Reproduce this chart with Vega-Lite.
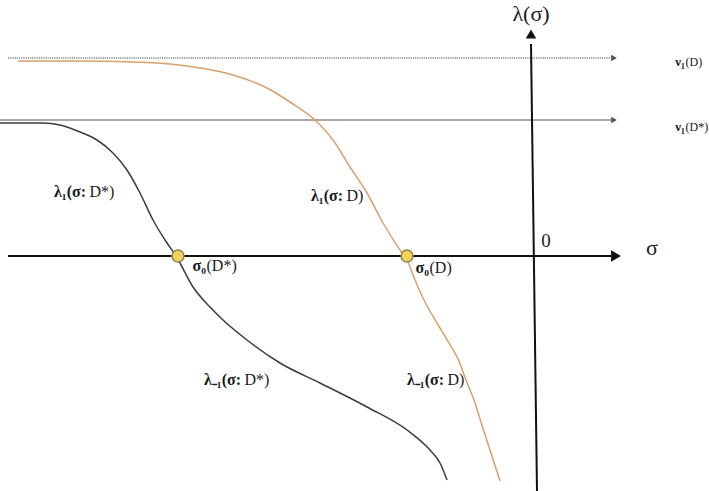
{
  "$schema": "https://vega.github.io/schema/vega-lite/v6.json",
  "width": 709,
  "height": 491,
  "autosize": "none",
  "padding": 0,
  "background": "white",
  "config": {"view": {"stroke": null}, "text": {"font": "Liberation Serif", "color": "#1a1a1a", "baseline": "middle"}},
  "datasets": {
    "curves": [
      {"curve": "D", "seq": 1, "s": -5.19, "l": 1.95},
      {"curve": "D", "seq": 2, "s": -4.57, "l": 1.95},
      {"curve": "D", "seq": 3, "s": -4.07, "l": 1.94},
      {"curve": "D", "seq": 4, "s": -3.67, "l": 1.92},
      {"curve": "D", "seq": 5, "s": -3.37, "l": 1.88},
      {"curve": "D", "seq": 6, "s": -3.04, "l": 1.81},
      {"curve": "D", "seq": 7, "s": -2.70, "l": 1.68},
      {"curve": "D", "seq": 8, "s": -2.47, "l": 1.54},
      {"curve": "D", "seq": 9, "s": -2.22, "l": 1.36},
      {"curve": "D", "seq": 10, "s": -2.04, "l": 1.16},
      {"curve": "D", "seq": 11, "s": -1.87, "l": 0.89},
      {"curve": "D", "seq": 12, "s": -1.70, "l": 0.63},
      {"curve": "D", "seq": 13, "s": -1.54, "l": 0.33},
      {"curve": "D", "seq": 14, "s": -1.37, "l": 0.06},
      {"curve": "D", "seq": 15, "s": -1.30, "l": -0.04},
      {"curve": "D", "seq": 16, "s": -1.22, "l": -0.24},
      {"curve": "D", "seq": 17, "s": -1.12, "l": -0.46},
      {"curve": "D", "seq": 18, "s": -1.00, "l": -0.67},
      {"curve": "D", "seq": 19, "s": -0.88, "l": -0.87},
      {"curve": "D", "seq": 20, "s": -0.78, "l": -1.05},
      {"curve": "D", "seq": 21, "s": -0.71, "l": -1.24},
      {"curve": "D", "seq": 22, "s": -0.63, "l": -1.44},
      {"curve": "D", "seq": 23, "s": -0.56, "l": -1.66},
      {"curve": "D", "seq": 24, "s": -0.47, "l": -1.94},
      {"curve": "D", "seq": 25, "s": -0.37, "l": -2.25},
      {"curve": "D*", "seq": 1, "s": -5.37, "l": 1.33},
      {"curve": "D*", "seq": 2, "s": -4.94, "l": 1.33},
      {"curve": "D*", "seq": 3, "s": -4.77, "l": 1.31},
      {"curve": "D*", "seq": 4, "s": -4.57, "l": 1.24},
      {"curve": "D*", "seq": 5, "s": -4.40, "l": 1.16},
      {"curve": "D*", "seq": 6, "s": -4.24, "l": 1.03},
      {"curve": "D*", "seq": 7, "s": -4.10, "l": 0.86},
      {"curve": "D*", "seq": 8, "s": -3.97, "l": 0.63},
      {"curve": "D*", "seq": 9, "s": -3.84, "l": 0.36},
      {"curve": "D*", "seq": 10, "s": -3.70, "l": 0.13},
      {"curve": "D*", "seq": 11, "s": -3.61, "l": 0.0},
      {"curve": "D*", "seq": 12, "s": -3.44, "l": -0.31},
      {"curve": "D*", "seq": 13, "s": -3.27, "l": -0.51},
      {"curve": "D*", "seq": 14, "s": -3.14, "l": -0.64},
      {"curve": "D*", "seq": 15, "s": -2.90, "l": -0.84},
      {"curve": "D*", "seq": 16, "s": -2.57, "l": -1.07},
      {"curve": "D*", "seq": 17, "s": -2.17, "l": -1.27},
      {"curve": "D*", "seq": 18, "s": -1.70, "l": -1.51},
      {"curve": "D*", "seq": 19, "s": -1.30, "l": -1.74},
      {"curve": "D*", "seq": 20, "s": -1.07, "l": -1.94},
      {"curve": "D*", "seq": 21, "s": -0.97, "l": -2.07},
      {"curve": "D*", "seq": 22, "s": -0.90, "l": -2.24}
    ],
    "lines": [
      {"id": "sigma-axis", "s1": -5.29, "l1": 0.0, "s2": 0.74, "l2": 0.0},
      {"id": "lambda-axis", "s1": 0.0, "l1": -2.35, "s2": -0.06, "l2": 2.12},
      {"id": "nu-D", "s1": -5.29, "l1": 1.98, "s2": 0.74, "l2": 1.98},
      {"id": "nu-Dstar", "s1": -5.37, "l1": 1.36, "s2": 0.74, "l2": 1.36}
    ],
    "arrows": [
      {"id": "sigma-axis", "s": 0.79, "l": 0.0},
      {"id": "lambda-axis", "s": -0.06, "l": 2.22},
      {"id": "nu-D", "s": 0.77, "l": 1.98},
      {"id": "nu-Dstar", "s": 0.77, "l": 1.36}
    ],
    "roots": [
      {"curve": "D*", "s": -3.59, "l": 0.0},
      {"curve": "D", "s": -1.30, "l": 0.0}
    ],
    "axisLabels": [
      {"role": "axis", "text": "λ(σ)", "s": -0.06, "l": 2.42},
      {"role": "axis", "text": "σ", "s": 1.15, "l": 0.08},
      {"role": "zero", "text": "0", "s": 0.09, "l": 0.15}
    ],
    "labels": [
      {"role": "limit", "lead": "ν₁", "tail": "(D)", "s": 1.48, "l": 1.94},
      {"role": "limit", "lead": "ν₁", "tail": "(D*)", "s": 1.48, "l": 1.29},
      {"role": "branch", "lead": "λ₁(σ:", "tail": "D*)", "s": -4.51, "l": 0.64},
      {"role": "branch", "lead": "λ₁(σ:", "tail": "D)", "s": -1.94, "l": 0.60},
      {"role": "branch", "lead": "λ₋₁(σ:", "tail": "D*)", "s": -2.96, "l": -1.24},
      {"role": "branch", "lead": "λ₋₁(σ:", "tail": "D)", "s": -0.93, "l": -1.24},
      {"role": "root", "lead": "σ₀", "tail": "(D*)", "s": -3.31, "l": -0.10},
      {"role": "root", "lead": "σ₀", "tail": "(D)", "s": -1.08, "l": -0.12}
    ]
  },
  "encoding": {
    "x": {"field": "s", "type": "quantitative", "axis": null,
          "scale": {"domain": [-5.37, 1.72], "nice": false, "zero": false}},
    "y": {"field": "l", "type": "quantitative", "axis": null,
          "scale": {"domain": [-2.35, 2.56], "nice": false, "zero": false}}
  },
  "layer": [
    {
      "data": {"name": "lines"},
      "transform": [{"filter": "datum.id === 'nu-D'"}],
      "mark": {"type": "rule", "color": "#444444", "strokeWidth": 1.2, "strokeDash": [1.2, 1]},
      "encoding": {
        "x": {"field": "s1", "type": "quantitative"},
        "y": {"field": "l1", "type": "quantitative"},
        "x2": {"field": "s2"},
        "y2": {"field": "l2"}
      }
    },
    {
      "data": {"name": "lines"},
      "transform": [{"filter": "datum.id === 'nu-Dstar'"}],
      "mark": {"type": "rule", "color": "#8c8c8c", "strokeWidth": 1.5},
      "encoding": {
        "x": {"field": "s1", "type": "quantitative"},
        "y": {"field": "l1", "type": "quantitative"},
        "x2": {"field": "s2"},
        "y2": {"field": "l2"}
      }
    },
    {
      "data": {"name": "lines"},
      "transform": [{"filter": "datum.id === 'sigma-axis' || datum.id === 'lambda-axis'"}],
      "mark": {"type": "rule", "color": "#111111", "strokeWidth": 2},
      "encoding": {
        "x": {"field": "s1", "type": "quantitative"},
        "y": {"field": "l1", "type": "quantitative"},
        "x2": {"field": "s2"},
        "y2": {"field": "l2"}
      }
    },
    {
      "data": {"name": "arrows"},
      "transform": [{"filter": "datum.id === 'sigma-axis'"}],
      "mark": {"type": "point", "shape": "triangle-right", "filled": true, "color": "#111111", "size": 130, "opacity": 1}
    },
    {
      "data": {"name": "arrows"},
      "transform": [{"filter": "datum.id === 'lambda-axis'"}],
      "mark": {"type": "point", "shape": "triangle-up", "filled": true, "color": "#111111", "size": 110, "opacity": 1}
    },
    {
      "data": {"name": "arrows"},
      "transform": [{"filter": "datum.id === 'nu-D' || datum.id === 'nu-Dstar'"}],
      "mark": {"type": "point", "shape": "triangle-right", "filled": true, "color": "#555555", "size": 45, "opacity": 1}
    },
    {
      "data": {"name": "curves"},
      "mark": {"type": "line", "strokeWidth": 1.5, "interpolate": "monotone"},
      "encoding": {
        "color": {"field": "curve", "type": "nominal", "legend": null,
                  "scale": {"domain": ["D", "D*"], "range": ["#d9a06b", "#3c3c3c"]}},
        "order": {"field": "seq", "type": "quantitative"}
      }
    },
    {
      "data": {"name": "roots"},
      "mark": {"type": "point", "filled": true, "shape": "circle", "size": 140,
               "fill": "#f5d35a", "stroke": "#8f8550", "strokeWidth": 1.5, "opacity": 1, "fillOpacity": 1}
    },
    {
      "data": {"name": "axisLabels"},
      "transform": [{"filter": "datum.role === 'axis'"}],
      "mark": {"type": "text", "fontSize": 22, "align": "center"},
      "encoding": {"text": {"field": "text"}}
    },
    {
      "data": {"name": "axisLabels"},
      "transform": [{"filter": "datum.role === 'zero'"}],
      "mark": {"type": "text", "fontSize": 19, "align": "center"},
      "encoding": {"text": {"field": "text"}}
    },
    {
      "data": {"name": "labels"},
      "transform": [{"filter": "datum.role === 'limit'"}],
      "mark": {"type": "text", "fontSize": 13, "fontWeight": "bold", "align": "right"},
      "encoding": {"text": {"field": "lead"}}
    },
    {
      "data": {"name": "labels"},
      "transform": [{"filter": "datum.role === 'limit'"}],
      "mark": {"type": "text", "fontSize": 12, "align": "left", "dx": 0.5},
      "encoding": {"text": {"field": "tail"}}
    },
    {
      "data": {"name": "labels"},
      "transform": [{"filter": "datum.role === 'branch'"}],
      "mark": {"type": "text", "fontSize": 16, "fontWeight": "bold", "align": "right"},
      "encoding": {"text": {"field": "lead"}}
    },
    {
      "data": {"name": "labels"},
      "transform": [{"filter": "datum.role === 'branch'"}],
      "mark": {"type": "text", "fontSize": 16, "align": "left", "dx": 3.5},
      "encoding": {"text": {"field": "tail"}}
    },
    {
      "data": {"name": "labels"},
      "transform": [{"filter": "datum.role === 'root'"}],
      "mark": {"type": "text", "fontSize": 16, "fontWeight": "bold", "align": "right"},
      "encoding": {"text": {"field": "lead"}}
    },
    {
      "data": {"name": "labels"},
      "transform": [{"filter": "datum.role === 'root'"}],
      "mark": {"type": "text", "fontSize": 16, "align": "left", "dx": 0.5},
      "encoding": {"text": {"field": "tail"}}
    }
  ]
}
